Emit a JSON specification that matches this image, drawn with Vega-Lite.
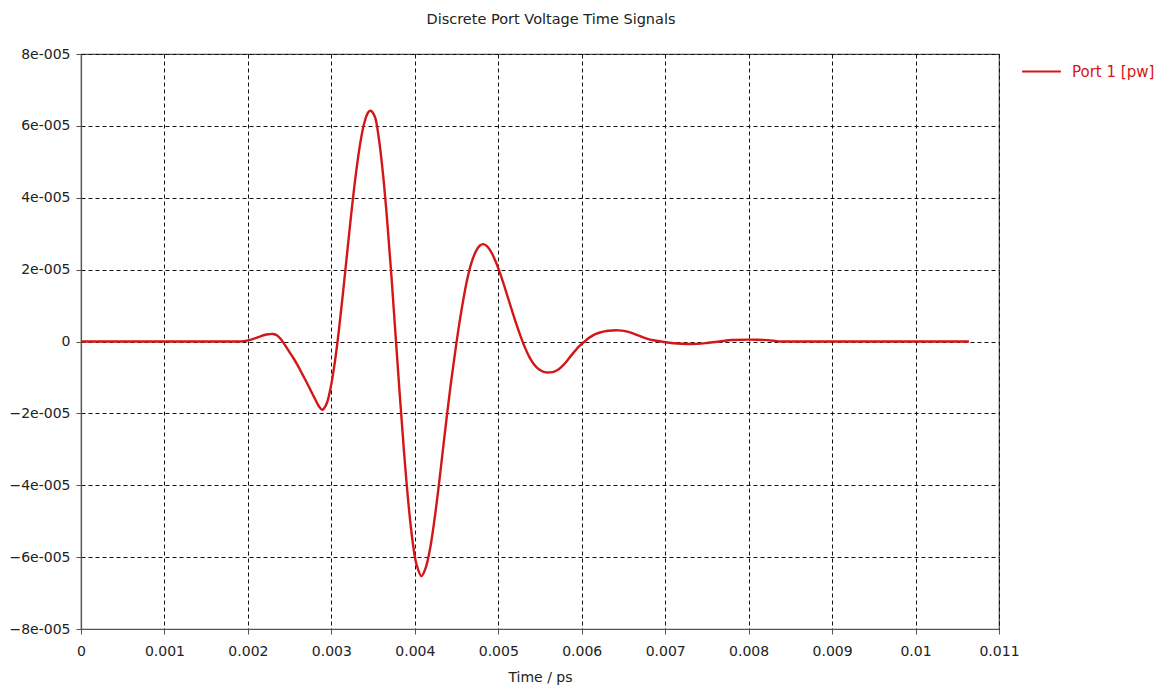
{
  "$schema": "https://vega.github.io/schema/vega-lite/v6.json",
  "autosize": "none",
  "width": 918,
  "height": 575,
  "padding": {"left": 81, "top": 54, "right": 169, "bottom": 66},
  "background": "white",
  "config": {
    "font": "DejaVu Sans",
    "view": {"stroke": "#555555", "strokeWidth": 1.2},
    "axis": {
      "domainColor": "#555555",
      "domainWidth": 1.2,
      "tickColor": "#555555",
      "tickSize": 5,
      "gridColor": "#111111",
      "gridDash": [4, 3],
      "gridOpacity": 1,
      "gridWidth": 1,
      "labelFont": "DejaVu Sans",
      "labelFontSize": 14,
      "labelColor": "#222222",
      "titleFont": "DejaVu Sans",
      "titleFontSize": 14,
      "titleFontWeight": "normal",
      "titleColor": "#222222"
    }
  },
  "title": {
    "text": "Discrete Port Voltage Time Signals",
    "font": "DejaVu Sans",
    "fontSize": 14.5,
    "fontWeight": "normal",
    "color": "#222222",
    "anchor": "middle",
    "dx": 11,
    "offset": 20
  },
  "data": {
    "values": [
      {"t": 0, "v": 0},
      {"t": 0.0018, "v": 0},
      {"t": 0.0019, "v": 0},
      {"t": 0.00195, "v": 0.0000001},
      {"t": 0.002, "v": 0.0000003},
      {"t": 0.00205, "v": 0.0000006},
      {"t": 0.0021, "v": 0.000001},
      {"t": 0.00215, "v": 0.0000014},
      {"t": 0.0022, "v": 0.0000018},
      {"t": 0.00225, "v": 0.000002},
      {"t": 0.0023, "v": 0.0000021},
      {"t": 0.00235, "v": 0.0000017},
      {"t": 0.0024, "v": 0.0000005},
      {"t": 0.00245, "v": -0.0000012},
      {"t": 0.0025, "v": -0.000003},
      {"t": 0.00255, "v": -0.0000048},
      {"t": 0.0026, "v": -0.0000068},
      {"t": 0.00265, "v": -0.000009},
      {"t": 0.0027, "v": -0.0000112},
      {"t": 0.00275, "v": -0.0000135},
      {"t": 0.0028, "v": -0.0000158},
      {"t": 0.00285, "v": -0.000018},
      {"t": 0.00289, "v": -0.000019},
      {"t": 0.00294, "v": -0.0000175},
      {"t": 0.00299, "v": -0.000013},
      {"t": 0.00304, "v": -0.000006},
      {"t": 0.00309, "v": 0.0000031},
      {"t": 0.00314, "v": 0.0000137},
      {"t": 0.00319, "v": 0.0000248},
      {"t": 0.00324, "v": 0.0000359},
      {"t": 0.00329, "v": 0.0000459},
      {"t": 0.00334, "v": 0.0000543},
      {"t": 0.00339, "v": 0.0000604},
      {"t": 0.00344, "v": 0.0000637},
      {"t": 0.00347, "v": 0.0000642},
      {"t": 0.00352, "v": 0.0000626},
      {"t": 0.00357, "v": 0.0000563},
      {"t": 0.00362, "v": 0.0000463},
      {"t": 0.00367, "v": 0.0000333},
      {"t": 0.00372, "v": 0.0000181},
      {"t": 0.00377, "v": 0.0000015},
      {"t": 0.00382, "v": -0.0000149},
      {"t": 0.00387, "v": -0.0000305},
      {"t": 0.00392, "v": -0.0000442},
      {"t": 0.00397, "v": -0.000055},
      {"t": 0.00402, "v": -0.000062},
      {"t": 0.00408, "v": -0.0000653},
      {"t": 0.00413, "v": -0.000063},
      {"t": 0.00418, "v": -0.000058},
      {"t": 0.00423, "v": -0.0000505},
      {"t": 0.00428, "v": -0.0000415},
      {"t": 0.00433, "v": -0.0000315},
      {"t": 0.00438, "v": -0.0000215},
      {"t": 0.00443, "v": -0.000012},
      {"t": 0.00448, "v": -0.0000035},
      {"t": 0.00453, "v": 0.0000045},
      {"t": 0.00458, "v": 0.0000115},
      {"t": 0.00463, "v": 0.0000175},
      {"t": 0.00468, "v": 0.000022},
      {"t": 0.00473, "v": 0.000025},
      {"t": 0.00478, "v": 0.0000267},
      {"t": 0.00482, "v": 0.0000271},
      {"t": 0.00487, "v": 0.0000264},
      {"t": 0.00492, "v": 0.0000247},
      {"t": 0.00497, "v": 0.0000222},
      {"t": 0.00502, "v": 0.0000191},
      {"t": 0.00507, "v": 0.0000156},
      {"t": 0.00512, "v": 0.0000119},
      {"t": 0.00517, "v": 0.0000082},
      {"t": 0.00522, "v": 0.0000046},
      {"t": 0.00527, "v": 0.0000013},
      {"t": 0.00532, "v": -0.0000017},
      {"t": 0.00537, "v": -0.0000042},
      {"t": 0.00542, "v": -0.0000061},
      {"t": 0.00547, "v": -0.0000074},
      {"t": 0.00552, "v": -0.0000082},
      {"t": 0.00557, "v": -0.0000086},
      {"t": 0.00562, "v": -0.0000086},
      {"t": 0.00567, "v": -0.0000084},
      {"t": 0.00572, "v": -0.0000078},
      {"t": 0.00577, "v": -0.0000068},
      {"t": 0.00582, "v": -0.0000055},
      {"t": 0.00587, "v": -0.000004},
      {"t": 0.00592, "v": -0.0000026},
      {"t": 0.00597, "v": -0.0000013},
      {"t": 0.00602, "v": -0.0000003},
      {"t": 0.00607, "v": 0.0000007},
      {"t": 0.00612, "v": 0.0000015},
      {"t": 0.00617, "v": 0.0000021},
      {"t": 0.00622, "v": 0.0000025},
      {"t": 0.00627, "v": 0.0000028},
      {"t": 0.00632, "v": 0.000003},
      {"t": 0.00644, "v": 0.0000031},
      {"t": 0.00652, "v": 0.0000029},
      {"t": 0.00662, "v": 0.0000022},
      {"t": 0.00672, "v": 0.0000013},
      {"t": 0.00682, "v": 0.0000005},
      {"t": 0.00695, "v": 0},
      {"t": 0.0071, "v": -0.0000005},
      {"t": 0.00731, "v": -0.0000007},
      {"t": 0.0075, "v": -0.0000004},
      {"t": 0.00765, "v": 0},
      {"t": 0.0078, "v": 0.0000004},
      {"t": 0.0081, "v": 0.0000005},
      {"t": 0.0083, "v": 0.0000002},
      {"t": 0.00838, "v": 0},
      {"t": 0.0085, "v": 0},
      {"t": 0.01064, "v": 0}
    ]
  },
  "mark": {"type": "line", "interpolate": "catmull-rom", "strokeWidth": 2.4, "clip": true},
  "encoding": {
    "x": {
      "field": "t",
      "type": "quantitative",
      "scale": {"domain": [0, 0.011], "nice": false, "zero": false},
      "axis": {
        "title": "Time / ps",
        "values": [0, 0.001, 0.002, 0.003, 0.004, 0.005, 0.006, 0.007, 0.008, 0.009, 0.01, 0.011],
        "labelExpr": "format(datum.value, '~g')",
        "labelPadding": 10,
        "titlePadding": 12,
        "labelFlush": false
      }
    },
    "y": {
      "field": "v",
      "type": "quantitative",
      "scale": {"domain": [-0.00008, 0.00008], "nice": false},
      "axis": {
        "title": null,
        "values": [-0.00008, -0.00006, -0.00004, -0.00002, 0, 0.00002, 0.00004, 0.00006, 0.00008],
        "labelExpr": "datum.value == 0 ? '0' : replace(format(datum.value, '.0e'), 'e-', 'e-00')",
        "labelPadding": 6,
        "labelFlush": false
      }
    },
    "color": {
      "datum": "Port 1 [pw]",
      "type": "nominal",
      "scale": {"range": ["#d41616"]},
      "legend": {
        "title": null,
        "orient": "none",
        "legendX": 940,
        "legendY": -3,
        "symbolType": "stroke",
        "symbolSize": 1500,
        "symbolStrokeWidth": 2,
        "labelFont": "DejaVu Sans",
        "labelFontSize": 15,
        "labelColor": "#d41616",
        "labelOffset": 10
      }
    }
  }
}
